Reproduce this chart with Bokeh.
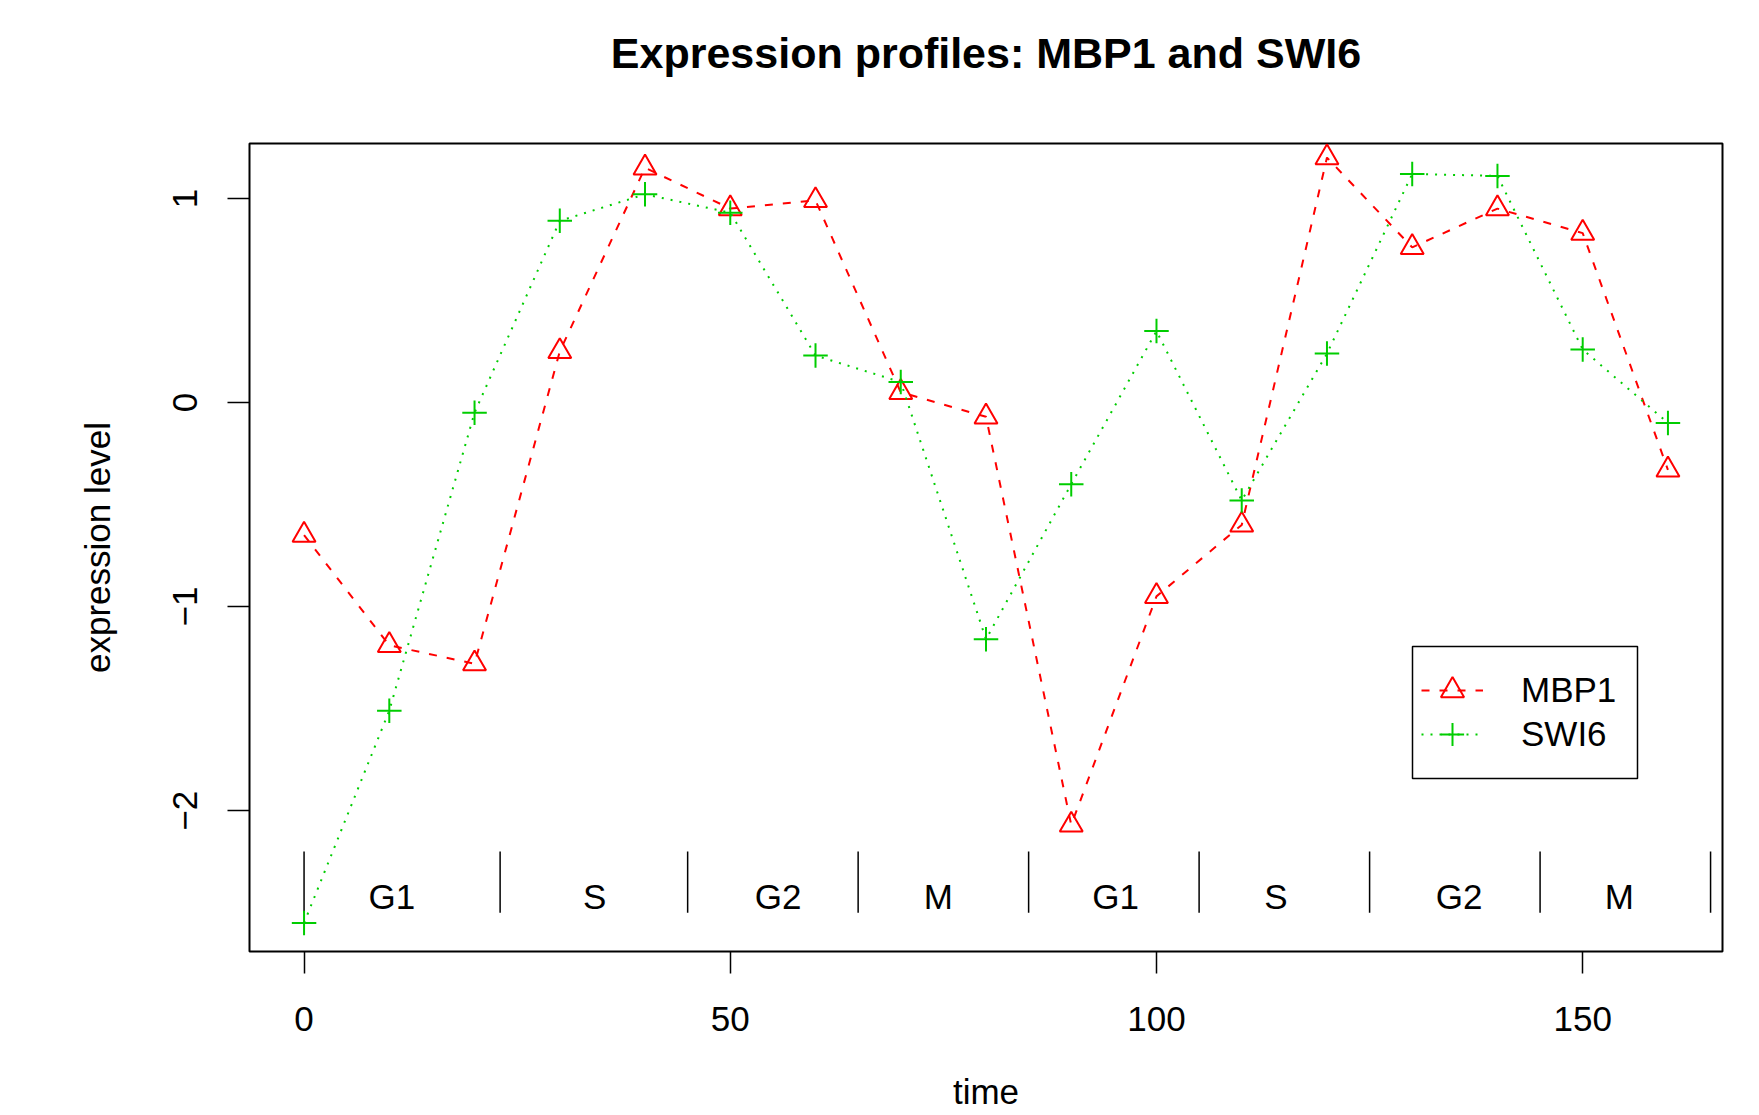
from bokeh.plotting import figure
from bokeh.models import (Range1d, FixedTicker, Legend, LegendItem, Title,
                          BoxAnnotation)
from bokeh.core.properties import value
from bokeh.embed import file_html
from bokeh.resources import INLINE

# ---- data ----
time = [0, 10, 20, 30, 40, 50, 60, 70, 80, 90, 100, 110, 120, 130, 140, 150, 160]
mbp1 = [-0.65, -1.19, -1.28, 0.25, 1.15, 0.95, 0.99, 0.05, -0.07, -2.07,
        -0.95, -0.60, 1.20, 0.76, 0.95, 0.83, -0.33]
swi6 = [-2.55, -1.51, -0.05, 0.89, 1.02, 0.93, 0.23, 0.10, -1.16, -0.40,
        0.35, -0.48, 0.24, 1.12, 1.11, 0.26, -0.10]
phase_bounds = [0, 23, 45, 65, 85, 105, 125, 145, 165]
phase_label_x = [10.3, 34.1, 55.6, 74.4, 95.2, 114.0, 135.5, 154.3]
phase_labels = ["G1", "S", "G2", "M", "G1", "S", "G2", "M"]
x_ticks = [0, 50, 100, 150]
y_ticks = [-2, -1, 0, 1]

FONT = "Liberation Sans"
RED = "#FF0000"
GREEN = "#00CD00"

p = figure(width=1751, height=1115, output_backend="svg", toolbar_location=None,
           x_range=Range1d(-6.4, 166.4), y_range=Range1d(-2.690, 1.269),
           min_border_left=249, min_border_right=29, min_border_top=143,
           min_border_bottom=164)

p.background_fill_color = "white"
p.border_fill_color = "white"
p.outline_line_color = "black"
p.outline_line_width = 2
p.xgrid.grid_line_color = None
p.ygrid.grid_line_color = None

# title (a blank spacer title keeps it up at the R position)
spacer = Title(text=" ", text_font_size="2px", standoff=63)
main_title = Title(text="Expression profiles: MBP1 and SWI6", align="center",
                   vertical_align="bottom", standoff=0, text_font=FONT,
                   text_font_size="43px", text_font_style="bold",
                   text_color="black")
p.add_layout(spacer, "above")
p.add_layout(main_title, "above")

for ax in (p.xaxis[0], p.yaxis[0]):
    ax.axis_line_color = None
    ax.major_tick_out = 22
    ax.major_tick_in = 0
    ax.major_tick_line_width = 1.5
    ax.major_tick_line_color = "black"
    ax.minor_tick_line_color = None
    ax.major_label_text_font = FONT
    ax.major_label_text_font_size = "35px"
    ax.major_label_text_color = "black"
    ax.axis_label_text_font = FONT
    ax.axis_label_text_font_size = "35px"
    ax.axis_label_text_font_style = "normal"
    ax.axis_label_text_color = "black"

p.xaxis.ticker = FixedTicker(ticks=x_ticks)
p.yaxis.ticker = FixedTicker(ticks=y_ticks)
p.yaxis.major_label_orientation = "vertical"
p.yaxis.major_label_overrides = {t: str(t).replace("-", "\u2212") for t in y_ticks}
p.xaxis.axis_label = "time"
p.yaxis.axis_label = "expression level"
p.xaxis.major_label_standoff = 33
p.yaxis.major_label_standoff = 30
p.xaxis.axis_label_standoff = 38
p.yaxis.axis_label_standoff = 54

# phase markers
n = len(phase_bounds)
p.segment(x0=phase_bounds, y0=[-2.2] * n, x1=phase_bounds, y1=[-2.5] * n,
          line_color="black", line_width=1.5)
p.text(x=phase_label_x, y=[-2.42] * len(phase_label_x), text=phase_labels,
       text_font=value(FONT), text_font_size="35px", text_align="center",
       text_baseline="middle", text_color="black")

# series
l1 = p.line(time, mbp1, line_color=RED, line_width=2, line_dash="8 10")
s1 = p.scatter(time, mbp1, marker="triangle", size=23, fill_color=None,
               line_color=RED, line_width=2)
l2 = p.line(time, swi6, line_color=GREEN, line_width=2, line_dash="2 7")
s2 = p.scatter(time, swi6, marker="cross", size=24.5, line_color=GREEN,
               line_width=2)

# legend frame
p.add_layout(BoxAnnotation(left=1163, right=1388, bottom=173, top=305,
                           left_units="screen", right_units="screen",
                           bottom_units="screen", top_units="screen",
                           fill_color="white", fill_alpha=1.0,
                           line_color="black", line_width=1.5, line_alpha=1.0))

def make_legend(label, renderers, y_loc):
    lg = Legend(items=[LegendItem(label=label, renderers=renderers)],
                location=(1172, y_loc))
    lg.border_line_color = None
    lg.background_fill_alpha = 0.0
    lg.padding = 0
    lg.spacing = 0
    lg.margin = 0
    lg.glyph_width = 62
    lg.glyph_height = 58
    lg.label_height = 58
    lg.label_standoff = 38
    lg.label_text_font = FONT
    lg.label_text_font_size = "35px"
    lg.label_text_color = "black"
    return lg

p.add_layout(make_legend("MBP1", [l1, s1], 232))
p.add_layout(make_legend("SWI6", [l2, s2], 188))

open("out.html", "w").write(file_html(p, INLINE))
